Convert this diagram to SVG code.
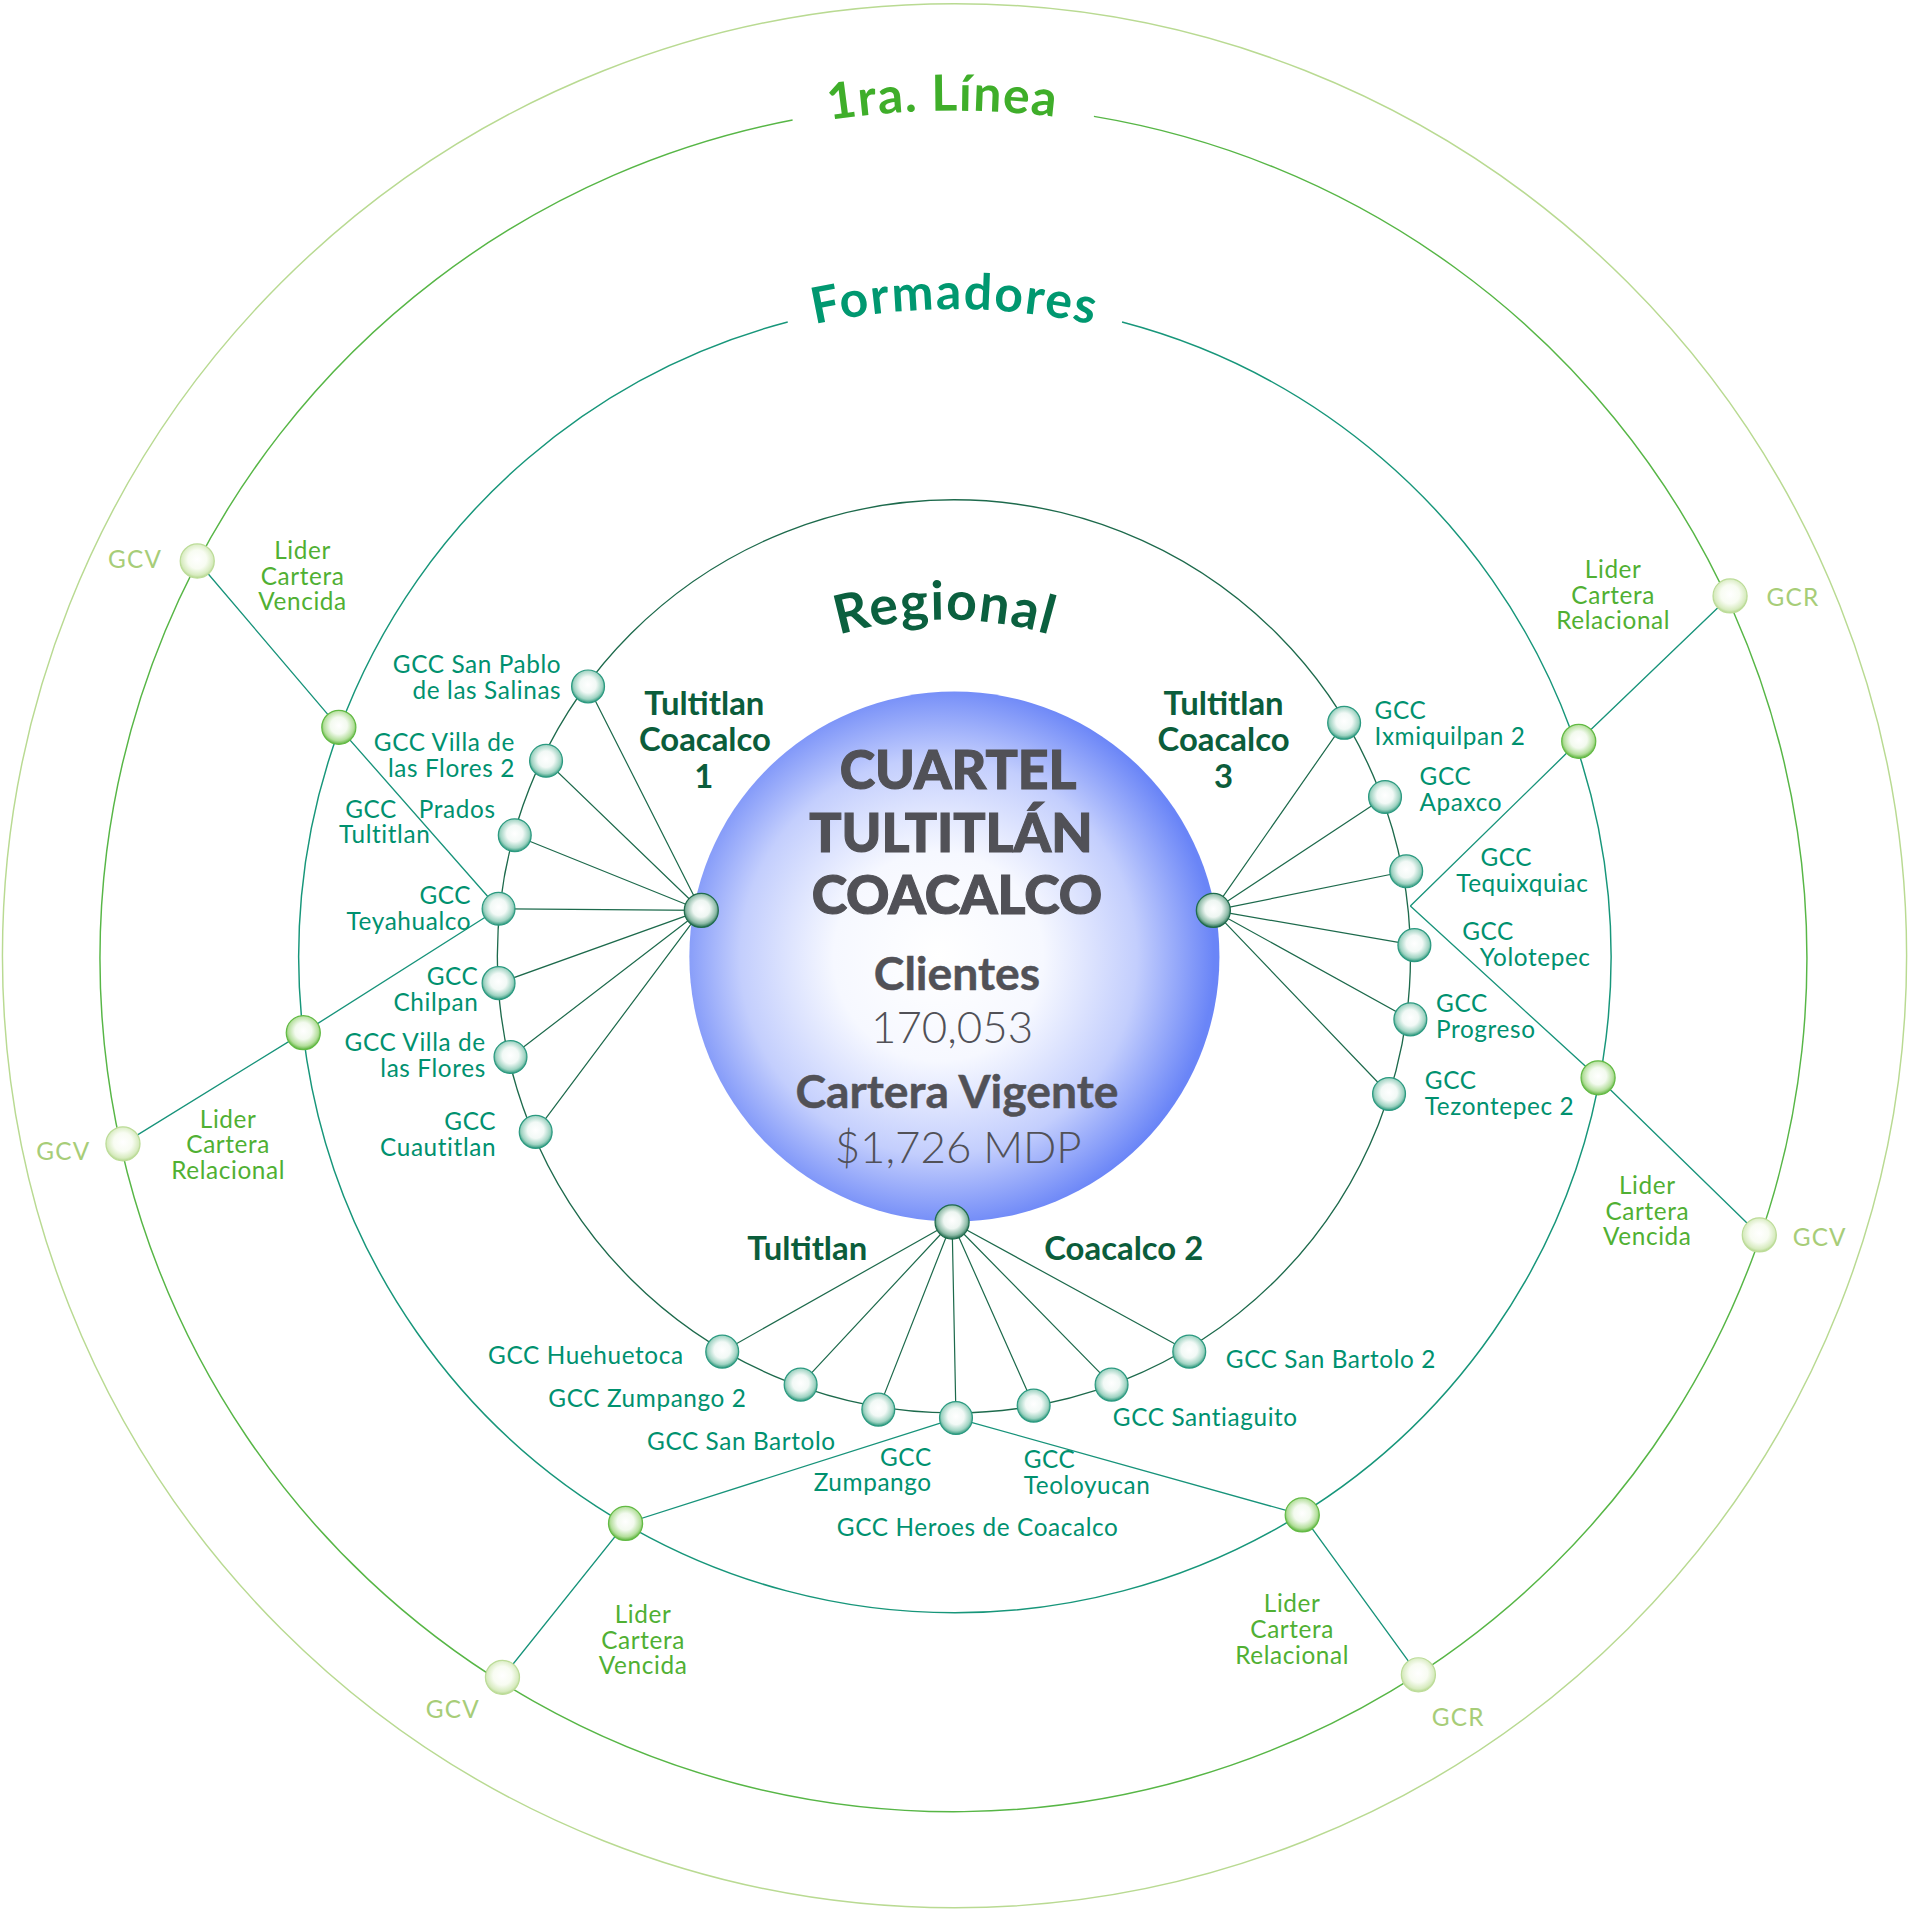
<svg xmlns="http://www.w3.org/2000/svg" width="1909" height="1910" viewBox="0 0 1909 1910">
<defs>
<style>
.ring{fill:none}
.r0{stroke:#b9da92;stroke-width:1.2}
.r1{stroke:#57b646;stroke-width:1.2}
.r2{stroke:#17967a;stroke-width:1.2}
.r3{stroke:#1d6a4c;stroke-width:1.1}
.hl{stroke:#1d6a4c;stroke-width:1;fill:none}
.ll{stroke:#17937a;stroke-width:1.1;fill:none}
.nG{fill:url(#gTeal);stroke:#2b9a80;stroke-width:1}
.nL{fill:url(#gLider);stroke:#62ba44;stroke-width:1}
.nV{fill:url(#gGcv);stroke:#bcdc98;stroke-width:1}
.nH{fill:url(#gHub);stroke:#1f6b4d;stroke-width:1}
text{font-family:Lato,"Liberation Sans",sans-serif}
.gcc{font-size:20px;fill:#00916f;letter-spacing:0.5px}
.lid{font-size:20px;fill:#50b033;letter-spacing:0.5px;text-anchor:middle}
.gcv{font-size:20px;fill:#a7cd78;letter-spacing:1px}
.hub{font-size:27px;font-weight:bold;fill:#0b5d3b;text-anchor:middle}
.arc{font-weight:bold}
.ct{fill:#515157;text-anchor:middle}
.ctb{font-size:44px;font-weight:900;stroke:#515157;stroke-width:0.9px}
.cts{font-size:38px;font-weight:bold;stroke:#515157;stroke-width:0.4px}
.ctv{font-size:36px;font-weight:300}
.e{text-anchor:end}
</style>
<radialGradient id="gMain" cx="0.47" cy="0.5" r="0.52">
<stop offset="0" stop-color="#ffffff"/>
<stop offset="0.38" stop-color="#f6f8ff"/>
<stop offset="0.72" stop-color="#c3cefd"/>
<stop offset="1" stop-color="#6a85f7"/>
</radialGradient>
<radialGradient id="gTeal" cx="0.5" cy="0.45" r="0.55">
<stop offset="0" stop-color="#ffffff"/>
<stop offset="0.45" stop-color="#f2f9f6"/>
<stop offset="0.8" stop-color="#9fd3c2"/>
<stop offset="1" stop-color="#2a977b"/>
</radialGradient>
<radialGradient id="gLider" cx="0.5" cy="0.45" r="0.55">
<stop offset="0" stop-color="#ffffff"/>
<stop offset="0.45" stop-color="#f3faef"/>
<stop offset="0.8" stop-color="#b4df9c"/>
<stop offset="1" stop-color="#5cb43c"/>
</radialGradient>
<radialGradient id="gGcv" cx="0.5" cy="0.45" r="0.55">
<stop offset="0" stop-color="#ffffff"/>
<stop offset="0.5" stop-color="#f8fcf2"/>
<stop offset="0.85" stop-color="#d7ebbf"/>
<stop offset="1" stop-color="#b3d68c"/>
</radialGradient>
<radialGradient id="gHub" cx="0.5" cy="0.45" r="0.55">
<stop offset="0" stop-color="#ffffff"/>
<stop offset="0.45" stop-color="#eef6f2"/>
<stop offset="0.8" stop-color="#8dbba7"/>
<stop offset="1" stop-color="#1f6b4d"/>
</radialGradient>
<path id="pLinea" d="M436 183.9 A694 694 0 0 1 1130 183.9"/>
<path id="pForm" d="M517.5 325.1 A531 531 0 0 1 1048.5 325.1"/>
<path id="pReg" d="M621 550.5 A310 310 0 0 1 931 550.5"/>
</defs>
<g transform="scale(1.2175)">
<g id="rings">
<circle class="ring r0" cx="784" cy="785" r="782"/>
<path class="ring r1" d="M898.5 95.6 A701 701 0 1 1 651 98.6"/>
<path class="ring r2" d="M921.6 264.5 A539 539 0 1 1 647 264.5"/>
<circle class="ring r3" cx="783.5" cy="785.5" r="375"/>
</g>
<g id="ring-titles">
<text class="arc" font-size="41" fill="#3fae2a" letter-spacing="1"><textPath href="#pLinea" startOffset="48.8%" text-anchor="middle">1ra. Línea</textPath></text>
<text class="arc" font-size="41" fill="#009870" letter-spacing="1.5"><textPath href="#pForm" startOffset="50.2%" text-anchor="middle">Formadores</textPath></text>
<text class="arc" font-size="44" fill="#0b603f" letter-spacing="1"><textPath href="#pReg" startOffset="50%" text-anchor="middle">Regional</textPath></text>
</g>
<g id="connectors">
<path class="hl" d="M576 747.8L483 563.8M576 747.8L448.5 624.9M576 747.8L422.8 686M576 747.8L409.5 746.4M576 747.8L409.5 807.5M576 747.8L419.3 868.2M576 747.8L440 929.7"/>
<path class="hl" d="M996.6 747.8L1104 593.7M996.6 747.8L1137.6 654.6M996.6 747.8L1155 715.6M996.6 747.8L1161.7 776.3M996.6 747.8L1158.4 837.3M996.6 747.8L1140.9 898.6"/>
<path class="hl" d="M782 1003.7L593.2 1110.2M782 1003.7L657.6 1137.3M782 1003.7L721.4 1157.8M782 1003.7L785.2 1164.7M782 1003.7L849 1154.5M782 1003.7L913 1137.3M782 1003.7L976.8 1110.2"/>
<polyline class="ll" points="162,460.8 278.3,597.4 409.5,746.4"/>
<polyline class="ll" points="101,939.5 249.1,848.2 409.5,746.4"/>
<polyline class="ll" points="1421,489.5 1296.7,608.9 1158.4,744.2"/>
<polyline class="ll" points="1445,1014.3 1312.6,885.3 1158.4,744.2"/>
<polyline class="ll" points="412.7,1377.7 513.8,1251.3 785.2,1164.7"/>
<polyline class="ll" points="1165,1375.6 1069.6,1244.3 785.2,1164.7"/>
</g>
<g id="cuartel">
<circle cx="783.9" cy="785.7" r="217.7" fill="url(#gMain)"/>
<text class="ct"><tspan class="ctb" x="787" y="648">CUARTEL</tspan><tspan class="ctb" x="781" y="700">TULTITLÁN</tspan><tspan class="ctb" x="786" y="751">COACALCO</tspan><tspan class="cts" x="786" y="813">Clientes</tspan><tspan class="ctv" x="782" y="857">170,053</tspan><tspan class="cts" x="786" y="910">Cartera Vigente</tspan><tspan class="ctv" x="787" y="955">$1,726 MDP</tspan></text>
</g>
<g id="hub-1">
<circle class="nH" cx="576" cy="747.8" r="14"/>
<text class="hub"><tspan x="578.5" y="587">Tultitlan</tspan><tspan x="579" y="616.5">Coacalco</tspan><tspan x="578" y="647">1</tspan></text>
</g>
<g id="hub-3">
<circle class="nH" cx="996.6" cy="747.8" r="14"/>
<text class="hub"><tspan x="1005" y="587">Tultitlan</tspan><tspan x="1005" y="616.5">Coacalco</tspan><tspan x="1005" y="647">3</tspan></text>
</g>
<g id="hub-2">
<circle class="nH" cx="782" cy="1003.7" r="14"/>
<text class="hub" x="663" y="1035">Tultitlan</text>
<text class="hub" x="923" y="1035">Coacalco 2</text>
</g>
<g id="gcc-san-pablo"><circle class="nG" cx="483" cy="563.8" r="13.5"/>
<text class="gcc e"><tspan x="461" y="552.7">GCC San Pablo</tspan><tspan x="461" y="573.8">de las Salinas</tspan></text></g>
<g id="gcc-villa-flores-2"><circle class="nG" cx="448.5" cy="624.9" r="13.5"/>
<text class="gcc e"><tspan x="423" y="616.7">GCC Villa de</tspan><tspan x="423" y="637.8">las Flores 2</tspan></text></g>
<g id="gcc-prados"><circle class="nG" cx="422.8" cy="686" r="13.5"/>
<text class="gcc"><tspan x="283.5" y="671.5">GCC</tspan><tspan x="344" y="671.5">Prados</tspan><tspan x="278.5" y="692.6">Tultitlan</tspan></text></g>
<g id="gcc-teyahualco"><circle class="nG" cx="409.5" cy="746.4" r="13.5"/>
<text class="gcc e"><tspan x="387" y="742.5">GCC</tspan><tspan x="387" y="763.5">Teyahualco</tspan></text></g>
<g id="gcc-chilpan"><circle class="nG" cx="409.5" cy="807.5" r="13.5"/>
<text class="gcc e"><tspan x="393" y="809.4">GCC</tspan><tspan x="393" y="830.4">Chilpan</tspan></text></g>
<g id="gcc-villa-flores"><circle class="nG" cx="419.3" cy="868.2" r="13.5"/>
<text class="gcc e"><tspan x="399" y="863.1">GCC Villa de</tspan><tspan x="399" y="884.2">las Flores</tspan></text></g>
<g id="gcc-cuautitlan"><circle class="nG" cx="440" cy="929.7" r="13.5"/>
<text class="gcc e"><tspan x="407.5" y="928">GCC</tspan><tspan x="407.5" y="949.3">Cuautitlan</tspan></text></g>
<g id="gcc-ixmiquilpan-2"><circle class="nG" cx="1104" cy="593.7" r="13.5"/>
<text class="gcc"><tspan x="1129" y="590.4">GCC</tspan><tspan x="1129" y="611.8">Ixmiquilpan 2</tspan></text></g>
<g id="gcc-apaxco"><circle class="nG" cx="1137.6" cy="654.6" r="13.5"/>
<text class="gcc"><tspan x="1166" y="644.6">GCC</tspan><tspan x="1166" y="665.8">Apaxco</tspan></text></g>
<g id="gcc-tequixquiac"><circle class="nG" cx="1155" cy="715.6" r="13.5"/>
<text class="gcc"><tspan x="1216" y="711.2">GCC</tspan><tspan x="1196" y="732.3">Tequixquiac</tspan></text></g>
<g id="gcc-yolotepec"><circle class="nG" cx="1161.7" cy="776.3" r="13.5"/>
<text class="gcc"><tspan x="1201" y="772.3">GCC</tspan><tspan x="1215.5" y="793.4">Yolotepec</tspan></text></g>
<g id="gcc-progreso"><circle class="nG" cx="1158.4" cy="837.3" r="13.5"/>
<text class="gcc"><tspan x="1179.5" y="831.5">GCC</tspan><tspan x="1179.5" y="852.6">Progreso</tspan></text></g>
<g id="gcc-tezontepec-2"><circle class="nG" cx="1140.9" cy="898.6" r="13.5"/>
<text class="gcc"><tspan x="1170.3" y="894.5">GCC</tspan><tspan x="1170.3" y="915.5">Tezontepec 2</tspan></text></g>
<g id="gcc-huehuetoca"><circle class="nG" cx="593.2" cy="1110.2" r="13.5"/>
<text class="gcc e" x="561.5" y="1120">GCC Huehuetoca</text></g>
<g id="gcc-zumpango-2"><circle class="nG" cx="657.6" cy="1137.3" r="13.5"/>
<text class="gcc e" x="613.2" y="1155.5">GCC Zumpango 2</text></g>
<g id="gcc-san-bartolo"><circle class="nG" cx="721.4" cy="1157.8" r="13.5"/>
<text class="gcc e" x="686.4" y="1191">GCC San Bartolo</text></g>
<g id="gcc-zumpango"><text class="gcc e"><tspan x="765.3" y="1203.8">GCC</tspan><tspan x="765.3" y="1224.9">Zumpango</tspan></text></g>
<g id="gcc-teoloyucan"><circle class="nG" cx="849" cy="1154.5" r="13.5"/>
<text class="gcc"><tspan x="840.8" y="1206">GCC</tspan><tspan x="840.8" y="1227.5">Teoloyucan</tspan></text></g>
<g id="gcc-santiaguito"><circle class="nG" cx="913" cy="1137.3" r="13.5"/>
<text class="gcc" x="914" y="1171">GCC Santiaguito</text></g>
<g id="gcc-san-bartolo-2"><circle class="nG" cx="976.8" cy="1110.2" r="13.5"/>
<text class="gcc" x="1006.8" y="1123.4">GCC San Bartolo 2</text></g>
<g id="gcc-heroes-coacalco"><circle class="nG" cx="785.2" cy="1164.7" r="13.5"/>
<text class="gcc" x="803" y="1261.3" text-anchor="middle">GCC Heroes de Coacalco</text></g>
<g id="lider-vencida-nw"><circle class="nL" cx="278.3" cy="597.4" r="14"/>
<text class="lid"><tspan x="248.5" y="459.4">Lider</tspan><tspan x="248.5" y="480.4">Cartera</tspan><tspan x="248.5" y="501.4">Vencida</tspan></text></g>
<g id="lider-relacional-w"><circle class="nL" cx="249.1" cy="848.2" r="14"/>
<text class="lid"><tspan x="187.4" y="926.3">Lider</tspan><tspan x="187.4" y="947.3">Cartera</tspan><tspan x="187.4" y="968.3">Relacional</tspan></text></g>
<g id="lider-relacional-ne"><circle class="nL" cx="1296.7" cy="608.9" r="14"/>
<text class="lid"><tspan x="1325" y="474.8">Lider</tspan><tspan x="1325" y="495.8">Cartera</tspan><tspan x="1325" y="516.8">Relacional</tspan></text></g>
<g id="lider-vencida-e"><circle class="nL" cx="1312.6" cy="885.3" r="14"/>
<text class="lid"><tspan x="1353" y="980.7">Lider</tspan><tspan x="1353" y="1001.7">Cartera</tspan><tspan x="1353" y="1022.7">Vencida</tspan></text></g>
<g id="lider-vencida-sw"><circle class="nL" cx="513.8" cy="1251.3" r="14"/>
<text class="lid"><tspan x="528.2" y="1333.2">Lider</tspan><tspan x="528.2" y="1354.2">Cartera</tspan><tspan x="528.2" y="1375.2">Vencida</tspan></text></g>
<g id="lider-relacional-se"><circle class="nL" cx="1069.6" cy="1244.3" r="14"/>
<text class="lid"><tspan x="1061.3" y="1324.4">Lider</tspan><tspan x="1061.3" y="1345.4">Cartera</tspan><tspan x="1061.3" y="1366.4">Relacional</tspan></text></g>
<g id="gcv-nw"><circle class="nV" cx="162" cy="460.8" r="14"/>
<text class="gcv" x="111" y="466.5" text-anchor="middle">GCV</text></g>
<g id="gcv-w"><circle class="nV" cx="101" cy="939.5" r="14"/>
<text class="gcv" x="52" y="952.8" text-anchor="middle">GCV</text></g>
<g id="gcr-ne"><circle class="nV" cx="1421" cy="489.5" r="14"/>
<text class="gcv" x="1451" y="497.5">GCR</text></g>
<g id="gcv-e"><circle class="nV" cx="1445" cy="1014.3" r="14"/>
<text class="gcv" x="1472.4" y="1023.3">GCV</text></g>
<g id="gcv-sw"><circle class="nV" cx="412.7" cy="1377.7" r="14"/>
<text class="gcv" x="372" y="1411.4" text-anchor="middle">GCV</text></g>
<g id="gcr-se"><circle class="nV" cx="1165" cy="1375.6" r="14"/>
<text class="gcv" x="1176" y="1417.6">GCR</text></g>
</g>
</svg>
